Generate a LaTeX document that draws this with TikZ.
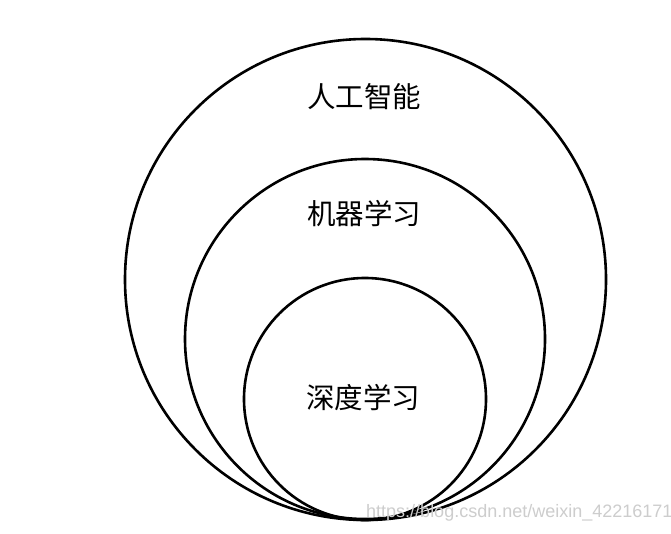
\documentclass[tikz,border=0pt]{standalone}
\usepackage{fontspec}
\newfontfamily\cjk{Noto Sans CJK SC}[Scale=1]
\newfontfamily\wmfont{Liberation Sans}
\definecolor{wmgray}{RGB}{205,205,205}
\begin{document}
\begin{tikzpicture}[x=1pt,y=-1pt,
  ring/.style={draw=black,line width=2.6pt,circle},
  lab/.style={font=\cjk\fontsize{28.5}{30}\selectfont,inner sep=0pt}]
\useasboundingbox (0,0) rectangle (671,533);
\fill[white] (0,0) rectangle (671,533);
\node[ring,minimum size=481pt,inner sep=0pt] (ai) at (365.5,279.5) {};
\node[ring,minimum size=360pt,inner sep=0pt] (ml) at (365,339) {};
\node[ring,minimum size=242pt,inner sep=0pt] (dl) at (365,399) {};
\node[lab] (tai) at (364,97) {人工智能};
\node[lab] (tml) at (364,214) {机器学习};
\node[lab] (tdl) at (363,398) {深度学习};
\node[font=\wmfont\fontsize{18}{20}\selectfont,text=wmgray,anchor=west,inner sep=0pt] (wm) at (366,513) {https://blog.csdn.net/weixin\_42216171};
\end{tikzpicture}
\end{document}
